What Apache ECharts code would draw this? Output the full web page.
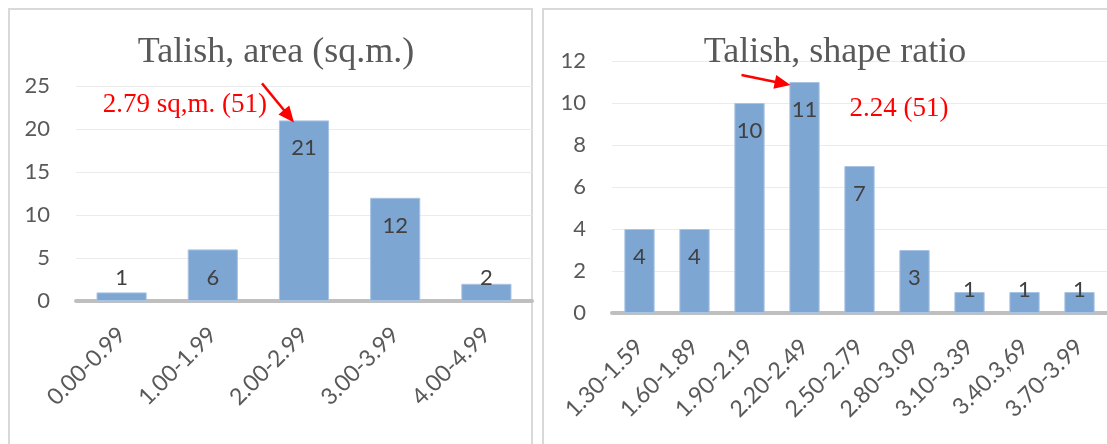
<!DOCTYPE html>
<html>
<head>
<meta charset="utf-8">
<script src="https://cdn.jsdelivr.net/npm/echarts@6/dist/echarts.min.js"></script>
<style>
  html, body { margin: 0; padding: 0; background: #ffffff; }
  #chart { width: 1107px; height: 444px; }
</style>
</head>
<body>
<div id="chart"></div>
<script>
// Talish plots: distribution by area and by shape ratio
const areaCategories = ['0.00-0.99', '1.00-1.99', '2.00-2.99', '3.00-3.99', '4.00-4.99'];
const areaCounts = [1, 6, 21, 12, 2];
const areaAxisMax = 25;
const areaAxisStep = 5;
const areaTitle = 'Talish, area (sq.m.)';
const areaNote = '2.79 sq,m. (51)';
const areaNoteIndex = 2;

const ratioCategories = ['1.30-1.59', '1.60-1.89', '1.90-2.19', '2.20-2.49', '2.50-2.79',
                         '2.80-3.09', '3.10-3.39', '3.40.3,69', '3.70-3.99'];
const ratioCounts = [4, 4, 10, 11, 7, 3, 1, 1, 1];
const ratioAxisMax = 12;
const ratioAxisStep = 2;
const ratioTitle = 'Talish, shape ratio';
const ratioNote = '2.24 (51)';
const ratioNoteIndex = 3;

const SANS = 'Lato, "Open Sans", sans-serif';
const SERIF = '"Liberation Serif", "Times New Roman", serif';
const BAR = '#7ea6d3';
const RED = '#ff0000';

const grids = [
  { left: 76, width: 456, top: 86, bottom: 143 },
  { left: 612, width: 497, top: 61, bottom: 131 }
];

const chart = echarts.init(document.getElementById('chart'), null, { renderer: 'canvas' });

// Labels sit just inside the bar top; on short bars they are lifted to a fixed height above the axis
function barData(values, gridIdx, max) {
  const h = 444 - grids[gridIdx].top - grids[gridIdx].bottom;
  return values.map(v => {
    const px = v / max * h;
    const tall = px > 52;
    return {
      value: v,
      label: tall ? { position: 'insideTop', distance: 17 } : { position: 'insideBottom', distance: 12 }
    };
  });
}

function xAxisFor(gridIndex, cats) {
  return {
    type: 'category', gridIndex, data: cats,
    axisLine: { show: true, lineStyle: { color: '#bfbfbf', width: 4 } },
    axisTick: { show: false },
    axisLabel: {
      interval: 0, rotate: 45, margin: 30,
      fontFamily: SANS, fontSize: 23, color: '#595959'
    }
  };
}

function yAxisFor(gridIndex, max, step) {
  return {
    type: 'value', gridIndex, min: 0, max, interval: step,
    axisLine: { show: false }, axisTick: { show: false },
    splitLine: { lineStyle: { color: '#ebebeb', width: 1 } },
    axisLabel: { margin: 26, fontFamily: SANS, fontSize: 22, color: '#595959' }
  };
}

function barSeries(idx, values, max) {
  return {
    type: 'bar', xAxisIndex: idx, yAxisIndex: idx,
    data: barData(values, idx, max),
    barWidth: '55%',
    itemStyle: { color: BAR, borderColor: '#a9c3e2', borderWidth: 1 },
    label: { show: true, fontFamily: SANS, fontSize: 22, lineHeight: 22, color: '#404040' },
    emphasis: { disabled: true },
    animation: false
  };
}

const titleStyle = { fontFamily: SERIF, fontSize: 36, fontWeight: 'normal', color: '#595959' };

chart.setOption({
  animation: false,
  backgroundColor: '#ffffff',
  title: [
    { text: areaTitle, left: 271, top: 30, textAlign: 'center', textStyle: titleStyle },
    { text: ratioTitle, left: 830, top: 30, textAlign: 'center', textStyle: titleStyle }
  ],
  grid: grids,
  xAxis: [xAxisFor(0, areaCategories), xAxisFor(1, ratioCategories)],
  yAxis: [yAxisFor(0, areaAxisMax, areaAxisStep), yAxisFor(1, ratioAxisMax, ratioAxisStep)],
  series: [barSeries(0, areaCounts, areaAxisMax), barSeries(1, ratioCounts, ratioAxisMax)]
});

// Red call-out arrows pointing at the bar holding the mean value
function arrow(from, to) {
  const dx = to[0] - from[0], dy = to[1] - from[1];
  const len = Math.sqrt(dx * dx + dy * dy);
  const ux = dx / len, uy = dy / len;
  const headLen = 16, headHalf = 7;
  const bx = to[0] - ux * headLen, by = to[1] - uy * headLen;
  return [
    { type: 'line', silent: true, z: 100,
      shape: { x1: from[0], y1: from[1], x2: bx + ux * 2, y2: by + uy * 2 },
      style: { stroke: RED, lineWidth: 2.5 } },
    { type: 'polygon', silent: true, z: 100,
      shape: { points: [[to[0], to[1]], [bx - uy * headHalf, by + ux * headHalf], [bx + uy * headHalf, by - ux * headHalf]] },
      style: { fill: RED } }
  ];
}

const areaTop = chart.convertToPixel({ xAxisIndex: 0, yAxisIndex: 0 }, [areaNoteIndex, areaCounts[areaNoteIndex]]);
const ratioTop = chart.convertToPixel({ xAxisIndex: 1, yAxisIndex: 1 }, [ratioNoteIndex, ratioCounts[ratioNoteIndex]]);

const areaTip = [areaTop[0] - 10, areaTop[1] + 2];
const areaTail = [areaTip[0] - 32, areaTip[1] - 39];
const ratioTip = [ratioTop[0] - 14, ratioTop[1] + 3];
const ratioTail = [ratioTip[0] - 49, ratioTip[1] - 10];

const noteStyle = { fontFamily: SERIF, fontSize: 27, fill: RED };

chart.setOption({
  graphic: [
    { type: 'rect', silent: true, z: -10,
      shape: { x: 9, y: 9, width: 523, height: 460 },
      style: { fill: 'none', stroke: '#d9d9d9', lineWidth: 2 } },
    { type: 'rect', silent: true, z: -10,
      shape: { x: 543, y: 9, width: 600, height: 460 },
      style: { fill: 'none', stroke: '#d9d9d9', lineWidth: 2 } },
    ...arrow(areaTail, areaTip),
    ...arrow(ratioTail, ratioTip),
    { type: 'text', silent: true, z: 100, x: areaTail[0] + 5, y: areaTail[1] + 22,
      style: Object.assign({ text: areaNote, align: 'right', verticalAlign: 'middle' }, noteStyle) },
    { type: 'text', silent: true, z: 100, x: ratioTop[0] + 45, y: ratioTop[1] + 27,
      style: Object.assign({ text: ratioNote, align: 'left', verticalAlign: 'middle' }, noteStyle) }
  ]
});
</script>
</body>
</html>
